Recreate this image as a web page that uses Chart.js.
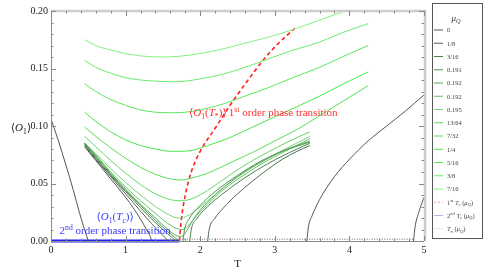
<!DOCTYPE html>
<html>
<head>
<meta charset="utf-8">
<script src="https://cdn.jsdelivr.net/npm/chart.js@4"></script>
<style>
  html, body { margin: 0; padding: 0; background: #fff; }
  #wrap { width: 491px; height: 277px; }
</style>
</head>
<body>
<div id="wrap"><canvas id="condensate" width="491" height="277"></canvas></div>
<script>
// mu_Q values in the legend, and a colour for each
const muLabels = ['0', '1/8', '3/16', '0.191', '0.192', '0.192', '0.195', '13/64', '7/32', '1/4', '5/16', '3/8', '7/16'];
const muColors = ['#555555', '#4f6a4f', '#4b7e4b', '#4e964e', '#58ab58', '#66c066', '#78d478', '#62d862', '#55e055', '#4ce44c', '#5ae85a', '#6aec6a', '#80f080'];

// branches as [T, <O1>]
const mu0Left = [[0, 0.106], [0.1, 0.087], [0.2, 0.066], [0.3, 0.044], [0.38, 0.025], [0.44, 0.012], [0.48, 0.004], [0.5, 0]];
const mu0Low = [[0.45, 0.082], [0.6, 0.070], [0.8, 0.054], [1.0, 0.038], [1.1, 0.029], [1.2, 0.019], [1.28, 0.010], [1.33, 0.004], [1.35, 0]];
const mu0High = [[3.43, 0], [3.45, 0.012], [3.5, 0.022], [3.6, 0.036], [3.8, 0.056], [4.0, 0.071], [4.25, 0.087], [4.5, 0.1], [4.75, 0.113], [5, 0.127]];
const mu0Far = [[4.86, 0], [4.88, 0.012], [4.93, 0.025], [5, 0.038]];
const mu18Low = [[0.45, 0.083], [0.6, 0.071], [0.8, 0.056], [1.0, 0.041], [1.2, 0.026], [1.35, 0.015], [1.45, 0.008], [1.53, 0.003], [1.57, 0]];
const mu18High = [[2.1, 0], [2.12, 0.01], [2.2, 0.02], [2.3, 0.028], [2.5, 0.041], [2.7, 0.052], [2.9, 0.062], [3.1, 0.071], [3.3, 0.078], [3.47, 0.083]];
const mu316Low = [[0.45, 0.084], [0.6, 0.072], [0.8, 0.057], [1.0, 0.043], [1.2, 0.029], [1.4, 0.016], [1.55, 0.007], [1.64, 0.002], [1.68, 0]];
const mu316High = [[1.86, 0], [1.88, 0.01], [1.95, 0.019], [2.1, 0.03], [2.3, 0.041], [2.6, 0.055], [2.9, 0.067], [3.2, 0.077], [3.47, 0.085]];
const mu191Low = [[0.45, 0.0845], [0.6, 0.073], [0.8, 0.058], [1.0, 0.044], [1.2, 0.031], [1.4, 0.018], [1.55, 0.009], [1.66, 0.003], [1.72, 0]];
const mu191High = [[1.77, 0], [1.79, 0.01], [1.85, 0.019], [2.0, 0.031], [2.2, 0.043], [2.5, 0.057], [2.8, 0.069], [3.1, 0.078], [3.47, 0.086]];
const mu192a = [[0.45, 0.085], [0.6, 0.074], [0.8, 0.059], [1.0, 0.045], [1.2, 0.032], [1.4, 0.02], [1.55, 0.011], [1.67, 0.005], [1.75, 0.004], [1.82, 0.009], [1.9, 0.018], [2.0, 0.027], [2.2, 0.04], [2.5, 0.056], [2.8, 0.068], [3.1, 0.078], [3.47, 0.087]];
const mu192b = [[0.45, 0.0852], [0.6, 0.075], [0.8, 0.06], [1.0, 0.047], [1.2, 0.035], [1.4, 0.024], [1.55, 0.016], [1.68, 0.011], [1.76, 0.01], [1.85, 0.014], [1.95, 0.022], [2.1, 0.032], [2.3, 0.044], [2.6, 0.058], [2.9, 0.07], [3.2, 0.08], [3.47, 0.089]];
const mu195 = [[0.45, 0.0855], [0.6, 0.076], [0.8, 0.063], [1.0, 0.051], [1.2, 0.04], [1.4, 0.03], [1.55, 0.024], [1.7, 0.02], [1.8, 0.021], [1.95, 0.027], [2.1, 0.035], [2.3, 0.046], [2.6, 0.06], [2.9, 0.072], [3.2, 0.082], [3.47, 0.091]];
const mu1364 = [[0.45, 0.091], [0.6, 0.082], [0.8, 0.07], [1.0, 0.059], [1.2, 0.049], [1.4, 0.041], [1.6, 0.036], [1.75, 0.035], [1.9, 0.037], [2.1, 0.044], [2.3, 0.053], [2.6, 0.066], [2.9, 0.077], [3.2, 0.087], [3.47, 0.095]];
const mu732 = [[0.45, 0.099], [0.6, 0.091], [0.8, 0.081], [1.0, 0.072], [1.2, 0.064], [1.4, 0.058], [1.6, 0.054], [1.75, 0.053], [1.9, 0.055], [2.1, 0.059], [2.4, 0.068], [2.7, 0.077], [3.0, 0.087], [3.3, 0.097], [3.6, 0.109], [3.9, 0.121], [4.25, 0.135]];
const mu14 = [[0.45, 0.112], [0.6, 0.104], [0.8, 0.095], [1.0, 0.088], [1.2, 0.083], [1.4, 0.08], [1.6, 0.078], [1.75, 0.078], [1.9, 0.079], [2.1, 0.083], [2.4, 0.09], [2.7, 0.099], [3.0, 0.108], [3.3, 0.117], [3.6, 0.126], [3.9, 0.136], [4.25, 0.147]];
const mu516 = [[0.45, 0.137], [0.6, 0.13], [0.8, 0.123], [1.0, 0.118], [1.2, 0.114], [1.4, 0.112], [1.6, 0.1115], [1.8, 0.112], [2.0, 0.114], [2.3, 0.119], [2.6, 0.126], [2.9, 0.133], [3.2, 0.141], [3.6, 0.151], [3.9, 0.16], [4.25, 0.17]];
const mu38 = [[0.45, 0.157], [0.6, 0.151], [0.8, 0.146], [1.0, 0.142], [1.2, 0.14], [1.4, 0.139], [1.6, 0.1385], [1.8, 0.139], [2.0, 0.141], [2.3, 0.145], [2.6, 0.151], [2.9, 0.158], [3.2, 0.165], [3.6, 0.173], [3.9, 0.181], [4.25, 0.189]];
const mu716 = [[0.45, 0.175], [0.6, 0.17], [0.8, 0.166], [1.0, 0.163], [1.2, 0.161], [1.45, 0.16], [1.7, 0.1605], [2.0, 0.163], [2.3, 0.167], [2.6, 0.172], [2.9, 0.177], [3.2, 0.183], [3.6, 0.192], [3.94, 0.2], [4.25, 0.207]];

// transition lines
const firstOrder = [[1.72, 0], [1.75, 0.02], [1.8, 0.04], [1.88, 0.06], [2.0, 0.078], [2.2, 0.098], [2.4, 0.118], [2.62, 0.138], [2.84, 0.157], [3.05, 0.172], [3.27, 0.185]];
const secondOrder = [[0, 0], [1.72, 0]];
const tnLine = [[1.72, 0.0015], [4.87, 0.0015]];

// which mu each branch belongs to
const branches = [
    [0, mu0Left], [0, mu0Low], [0, mu0High], [0, mu0Far],
    [1, mu18Low], [1, mu18High], [2, mu316Low], [2, mu316High],
    [3, mu191Low], [3, mu191High], [4, mu192a], [5, mu192b], [6, mu195],
    [7, mu1364], [8, mu732], [9, mu14], [10, mu516], [11, mu38], [12, mu716]
];

const toXY = arr => arr.map(p => ({ x: p[0], y: p[1] }));
const serif = '"Liberation Serif", "DejaVu Serif", serif';

const datasets = [
    {
        data: toXY(tnLine), borderColor: '#999', borderWidth: 1.5,
        borderDash: [1, 1.5], pointRadius: 0, showLine: true
    }
];
branches.forEach(b => {
    datasets.push({
        data: toXY(b[1]), borderColor: muColors[b[0]], borderWidth: 1,
        pointRadius: 0, showLine: true, cubicInterpolationMode: 'monotone'
    });
});
datasets.push({
    data: toXY(firstOrder), borderColor: '#ff2020', borderWidth: 1.6,
    borderDash: [4, 3], pointRadius: 0, showLine: true, cubicInterpolationMode: 'monotone'
});
datasets.push({
    data: toXY(secondOrder), borderColor: '#2020ff', borderWidth: 3,
    pointRadius: 0, showLine: true, clip: false
});

// draw text with sub/superscripts and italics
function drawRich(ctx, runs, x, y, size, color, align) {
    const fontFor = r => {
        const s = (r.sub || r.sup) ? size * 0.7 : size;
        return (r.i ? 'italic ' : '') + s + 'px ' + serif;
    };
    let w = 0;
    runs.forEach(r => { ctx.font = fontFor(r); w += ctx.measureText(r.t).width; });
    let cx = align === 'center' ? x - w / 2 : (align === 'right' ? x - w : x);
    ctx.fillStyle = color;
    ctx.textBaseline = 'alphabetic';
    ctx.textAlign = 'left';
    runs.forEach(r => {
        ctx.font = fontFor(r);
        const dy = r.sub ? size * 0.25 : (r.sup ? -size * 0.4 : 0);
        ctx.fillText(r.t, cx, y + dy);
        cx += ctx.measureText(r.t).width;
    });
}

const O1 = [{ t: '⟨' }, { t: 'O', i: true }, { t: '1', sub: true }];

const framePlugin = {
    id: 'frame',
    afterDraw(chart) {
        const ctx = chart.ctx;
        const a = chart.chartArea;
        const xs = chart.scales.x, ys = chart.scales.y;
        ctx.save();
        // frame
        ctx.strokeStyle = '#cccccc';
        ctx.lineWidth = 2.5;
        ctx.beginPath();
        ctx.moveTo(a.left, a.top); ctx.lineTo(a.right + 1, a.top); ctx.lineTo(a.right + 1, a.bottom);
        ctx.stroke();
        ctx.strokeStyle = '#8a8a8a';
        ctx.lineWidth = 1;
        ctx.beginPath();
        ctx.moveTo(a.left + 0.5, a.top); ctx.lineTo(a.left + 0.5, a.bottom + 0.5); ctx.lineTo(a.right, a.bottom + 0.5);
        ctx.stroke();
        // inward ticks
        ctx.strokeStyle = '#888';
        ctx.beginPath();
        for (let i = 0; i <= 25; i++) {
            const v = i * 0.2;
            const px = Math.round(xs.getPixelForValue(v)) + 0.5;
            const len = i % 5 === 0 ? 5 : 2.5;
            ctx.moveTo(px, a.bottom); ctx.lineTo(px, a.bottom - len);
            ctx.moveTo(px, a.top); ctx.lineTo(px, a.top + len);
        }
        for (let i = 0; i <= 20; i++) {
            const v = i * 0.01;
            const py = Math.round(ys.getPixelForValue(v)) + 0.5;
            const len = i % 5 === 0 ? 5 : 2.5;
            ctx.moveTo(a.left, py); ctx.lineTo(a.left + len, py);
            ctx.moveTo(a.right, py); ctx.lineTo(a.right - len, py);
        }
        ctx.stroke();

        // axis labels
        drawRich(ctx, O1.concat([{ t: '⟩' }]), 21, 131, 11, '#222', 'center');
        ctx.font = '11px ' + serif;
        ctx.fillStyle = '#222';
        ctx.textAlign = 'center';
        ctx.fillText('T', xs.getPixelForValue(2.5), 267);

        // annotations
        drawRich(ctx, O1.concat([{ t: '(' }, { t: 'T', i: true }, { t: 'c', i: true, sub: true }, { t: ')⟩' }]),
            xs.getPixelForValue(0.86), ys.getPixelForValue(0.018), 11, '#3a3aff', 'center');
        drawRich(ctx, [{ t: '2' }, { t: 'nd', sup: true }, { t: ' order phase transition' }],
            xs.getPixelForValue(0.86), ys.getPixelForValue(0.006), 11, '#3a3aff', 'center');
        drawRich(ctx, O1.concat([{ t: '(' }, { t: 'T', i: true }, { t: '*', sub: true }, { t: ')⟩\u2009' },
            { t: '1' }, { t: 'st', sup: true }, { t: ' order phase transition' }]),
            xs.getPixelForValue(1.85), ys.getPixelForValue(0.1085), 11, '#ff3030', 'left');

        // legend
        const lx = 432, ly = 3, lw = 50, lh = 235;
        ctx.fillStyle = '#fff';
        ctx.fillRect(lx, ly, lw, lh);
        ctx.strokeStyle = '#555';
        ctx.lineWidth = 1;
        ctx.strokeRect(lx + 0.5, ly + 0.5, lw, lh);
        drawRich(ctx, [{ t: 'μ', i: true }, { t: 'Q', i: true, sub: true }], 456, 21, 9, '#333', 'center');
        const step = 13.25;
        muLabels.forEach((lab, i) => {
            const y = 30 + i * step;
            ctx.strokeStyle = muColors[i];
            ctx.setLineDash([]);
            ctx.beginPath(); ctx.moveTo(434, y); ctx.lineTo(443, y); ctx.stroke();
            drawRich(ctx, [{ t: lab }], 447, y + 2.3, 6.5, '#444', 'left');
        });
        const extra = [
            { c: '#f4a0a0', d: [2, 2], runs: [{ t: '1' }, { t: 'st', sup: true }, { t: ' ' }, { t: 'T', i: true }, { t: 'c', i: true, sub: true }, { t: ' (' }, { t: 'μ', i: true }, { t: 'Q', i: true, sub: true }, { t: ')' }] },
            { c: '#b4b4f0', d: [], runs: [{ t: '2' }, { t: 'nd', sup: true }, { t: ' ' }, { t: 'T', i: true }, { t: 'c', i: true, sub: true }, { t: ' (' }, { t: 'μ', i: true }, { t: 'Q', i: true, sub: true }, { t: ')' }] },
            { c: '#c8c8c8', d: [1, 1.5], runs: [{ t: 'T', i: true }, { t: 'n', i: true, sub: true }, { t: ' (' }, { t: 'μ', i: true }, { t: 'Q', i: true, sub: true }, { t: ')' }] }
        ];
        extra.forEach((e, k) => {
            const y = 30 + (muLabels.length + k) * step;
            ctx.strokeStyle = e.c;
            ctx.setLineDash(e.d);
            ctx.beginPath(); ctx.moveTo(434, y); ctx.lineTo(443, y); ctx.stroke();
            ctx.setLineDash([]);
            drawRich(ctx, e.runs, 447, y + 2.3, 6.5, '#444', 'left');
        });
        ctx.restore();
    }
};

const ctx = document.getElementById('condensate').getContext('2d');
const chart = new Chart(ctx, {
    type: 'scatter',
    data: { datasets: datasets },
    options: {
        responsive: false,
        animation: false,
        devicePixelRatio: 1,
        layout: { padding: { top: 11, right: 67, left: 0, bottom: 0 } },
        plugins: { legend: { display: false }, tooltip: { enabled: false } },
        scales: {
            x: {
                type: 'linear', min: 0, max: 5,
                afterFit: s => { s.height = 36; },
                grid: { display: false, drawTicks: false },
                border: { display: false },
                ticks: { stepSize: 1, padding: 3, color: '#222', font: { family: serif, size: 10 } }
            },
            y: {
                type: 'linear', min: 0, max: 0.2,
                afterFit: s => { s.width = 51; },
                grid: { display: false, drawTicks: false },
                border: { display: false },
                ticks: { stepSize: 0.05, padding: 3, color: '#222', font: { family: serif, size: 10 },
                    callback: v => v.toFixed(2) }
            }
        }
    },
    plugins: [framePlugin]
});
</script>
</body>
</html>
